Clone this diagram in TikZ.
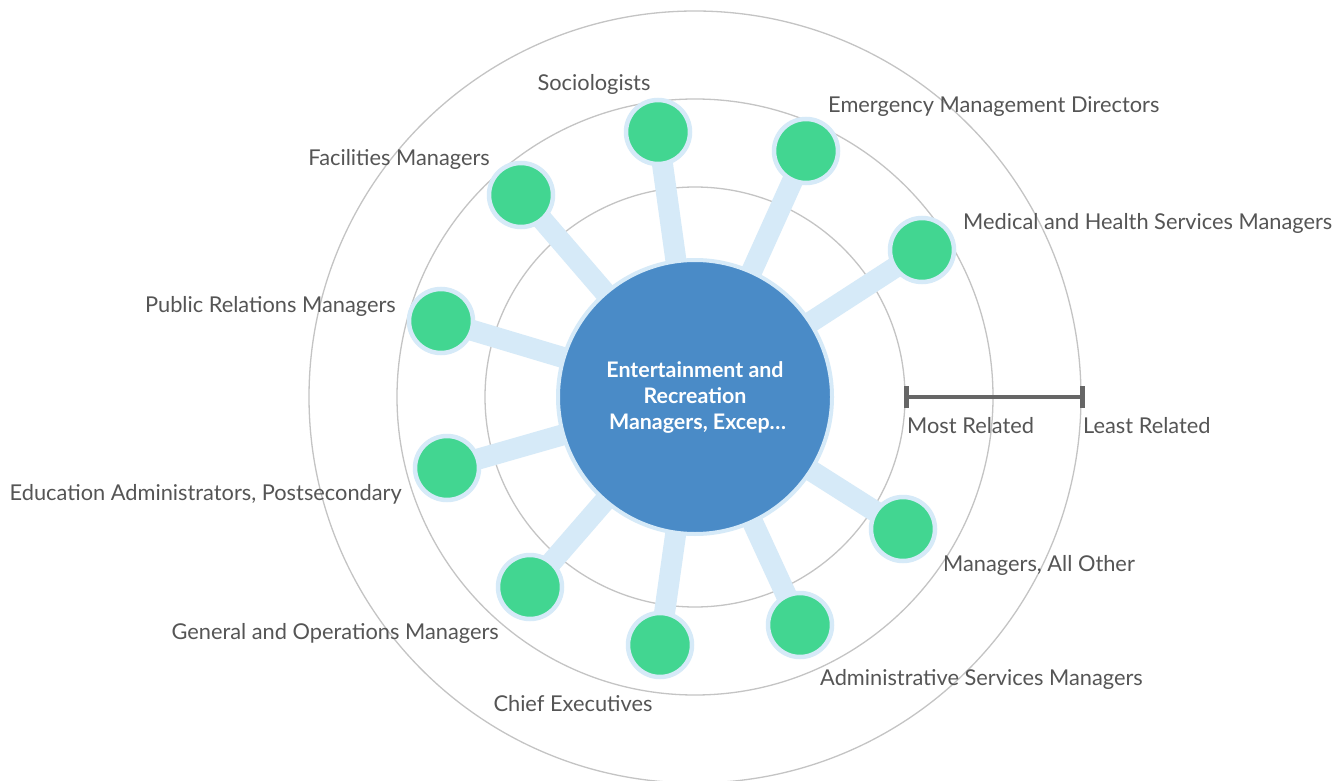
\documentclass[tikz,border=0pt]{standalone}
\usepackage{fontspec}
\setmainfont{Lato}
\usetikzlibrary{backgrounds}
\definecolor{ringgray}{HTML}{C4C4C4}
\definecolor{spokeblue}{HTML}{D6EAF8}
\definecolor{hubblue}{HTML}{4A8BC7}
\definecolor{leafgreen}{HTML}{42D691}
\definecolor{labelgray}{HTML}{555555}
\definecolor{bargray}{HTML}{666666}
\tikzset{
  ring/.style={draw=ringgray, line width=1.3pt},
  spoke/.style={draw=spokeblue, line width=21pt},
  hub/.style={circle, fill=hubblue, draw=spokeblue, line width=4pt, minimum size=274pt, inner sep=0pt,
    text=white, font=\fontsize{21.4}{26}\selectfont\bfseries, align=center},
  leaf/.style={circle, fill=leafgreen, draw=spokeblue, line width=4.5pt, minimum size=64pt, inner sep=0pt},
  lab/.style={text=labelgray, font=\fontsize{21.8}{26}\selectfont, inner sep=0pt},
  bar/.style={draw=bargray, line width=4pt},
  tick/.style={draw=bargray, line width=5pt},
}
\begin{document}
\begin{tikzpicture}[x=1pt, y=-1pt]
\useasboundingbox (0,0) rectangle (1344,781);
\fill[white] (0,0) rectangle (1344,781);
\coordinate (C) at (695,397);
% rings
\draw[ring] (C) circle[radius=210];
\draw[ring] (C) circle[radius=298];
\draw[ring] (C) circle[radius=386];
% node positions
\coordinate (p1) at (658,132);
\coordinate (p2) at (806,151);
\coordinate (p3) at (922,250);
\coordinate (p4) at (521,195);
\coordinate (p5) at (441,321);
\coordinate (p6) at (447,468);
\coordinate (p7) at (530,587);
\coordinate (p8) at (660,645);
\coordinate (p9) at (800,625);
\coordinate (p10) at (903,529);
% spokes
\foreach \i in {1,...,10} { \draw[spoke] (C) -- (p\i); }
% hub
\node[hub] (hub) at (C) {Entertainment and\\Recreation\\\ Managers, Excep…};
% leaves
\node[leaf] (soc) at (p1) {};
\node[leaf] (emd) at (p2) {};
\node[leaf] (mhs) at (p3) {};
\node[leaf] (fac) at (p4) {};
\node[leaf] (prm) at (p5) {};
\node[leaf] (eda) at (p6) {};
\node[leaf] (gom) at (p7) {};
\node[leaf] (che) at (p8) {};
\node[leaf] (asm) at (p9) {};
\node[leaf] (mao) at (p10) {};
% labels
\node[lab, anchor=center] (lsoc) at (594,84) {Sociologists};
\node[lab, anchor=west] (lemd) at (828,107) {Emergency Management Directors};
\node[lab, anchor=west] (lmhs) at (963,223) {Medical and Health Services Managers};
\node[lab, anchor=east] (lfac) at (490,159) {Facilities Managers};
\node[lab, anchor=east] (lprm) at (396,306) {Public Relations Managers};
\node[lab, anchor=east] (leda) at (402,494) {Education Administrators, Postsecondary};
\node[lab, anchor=east] (lgom) at (499,633) {General and Operations Managers};
\node[lab, anchor=center] (lche) at (573,704) {Chief Executives};
\node[lab, anchor=west] (lasm) at (820,679) {Administrative Services Managers};
\node[lab, anchor=west] (lmao) at (943,565) {Managers, All Other};
% scale bar
\coordinate (b1) at (906,397);
\coordinate (b2) at (1082,397);
\draw[bar] (b1) -- (b2);
\draw[tick] ([yshift=-11pt]b1) -- ([yshift=11pt]b1);
\draw[tick] ([yshift=-11pt]b2) -- ([yshift=11pt]b2);
\node[lab, anchor=west] (most) at (907,426) {Most Related};
\node[lab, anchor=west] (least) at (1083,426) {Least Related};
\end{tikzpicture}
\end{document}
